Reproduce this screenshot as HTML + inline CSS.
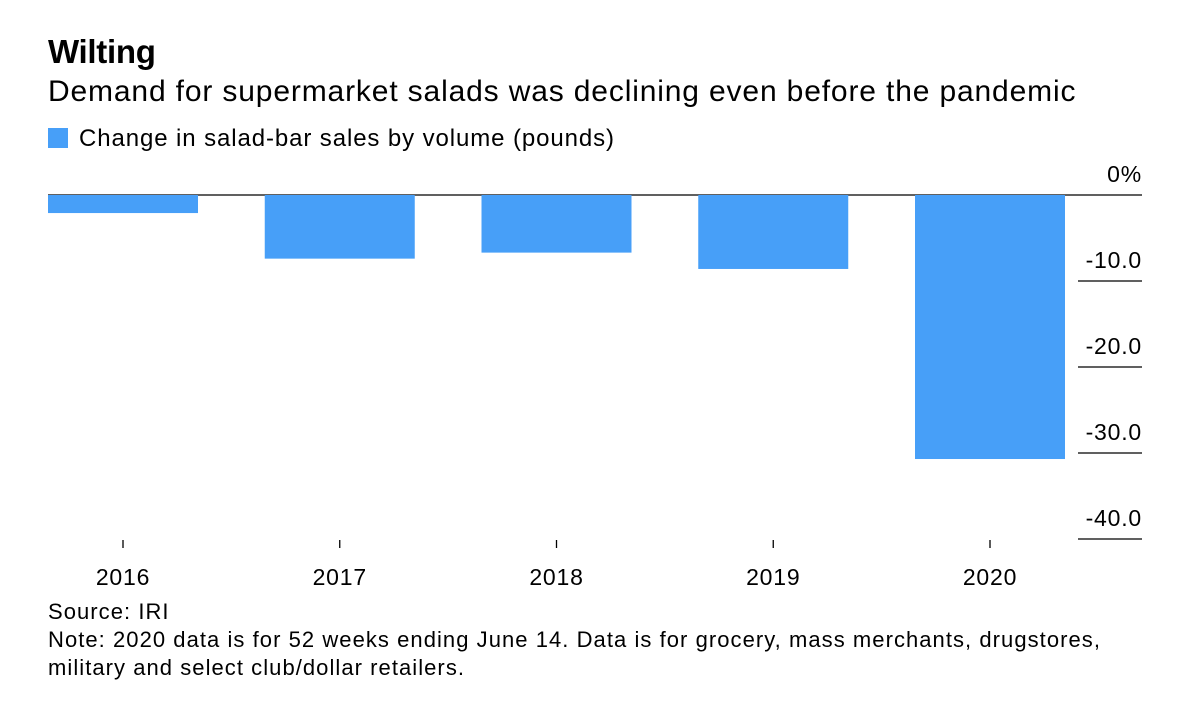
<!DOCTYPE html>
<html><head><meta charset="utf-8"><style>
body{margin:0;background:#fff;font-family:"Liberation Sans",sans-serif;color:#000;}
#wrap{position:relative;width:1200px;height:701px;overflow:hidden;}
.t{position:absolute;white-space:nowrap;}
</style></head><body>
<div id="wrap">
<div class="t" style="left:48px;top:33px;font-size:33px;font-weight:bold;letter-spacing:-0.3px">Wilting</div>
<div class="t" style="left:48px;top:75px;font-size:30px;letter-spacing:0.85px">Demand for supermarket salads was declining even before the pandemic</div>
<div class="t" style="left:48px;top:125px;font-size:24px;letter-spacing:0.9px"><span style="display:inline-block;width:20px;height:20px;background:#479ff8;vertical-align:-2px;margin-right:11px"></span>Change in salad-bar sales by volume (pounds)</div>
<svg id="plot" width="1200" height="701" style="position:absolute;left:0;top:0"></svg>
<div class="t" style="left:48px;top:598px;font-size:22px;line-height:28px;letter-spacing:1.05px">Source: IRI<br>Note: 2020 data is for 52 weeks ending June 14. Data is for grocery, mass merchants, drugstores,<br>military and select club/dollar retailers.</div>
</div>
<script>
const categories=["2016","2017","2018","2019","2020"];
const values=[-2.1,-7.4,-6.7,-8.6,-30.7];
const ticks=[0,-10,-20,-30,-40];
const tickLabels=["0%","-10.0","-20.0","-30.0","-40.0"];
const svg=document.getElementById('plot');
const NS="http://www.w3.org/2000/svg";
const y=v=>195-v*8.6;
const xc=i=>123+i*216.75;
const bw=150;
function mk(t,a){const e=document.createElementNS(NS,t);for(const k in a)e.setAttribute(k,a[k]);svg.appendChild(e);return e;}
ticks.forEach((v,i)=>{
 const l=mk('line',{x1:i===0?48:1078,x2:1142,y1:y(v),y2:y(v),stroke:'#000','stroke-width':1.3});
 
 
 const t=mk('text',{x:1142,y:y(v)-13,'text-anchor':'end','font-size':23,'letter-spacing':0.8,'font-family':'Liberation Sans, sans-serif'});
 t.textContent=tickLabels[i];
 
 
});
categories.forEach((c,i)=>{
 const v=values[i];
 const r=mk('rect',{x:xc(i)-bw/2,y:Math.min(y(0),y(v)),width:bw,height:Math.abs(y(v)-y(0)),fill:'#479ff8'});
 
 
 const tk=mk('line',{x1:xc(i),x2:xc(i),y1:540,y2:548,stroke:'#000','stroke-width':1.3});
 
 
 const t=mk('text',{x:xc(i),y:585,'text-anchor':'middle','font-size':23,'letter-spacing':0.8,'font-family':'Liberation Sans, sans-serif'});
 t.textContent=c;
 
 
});
</script>
</body></html>
